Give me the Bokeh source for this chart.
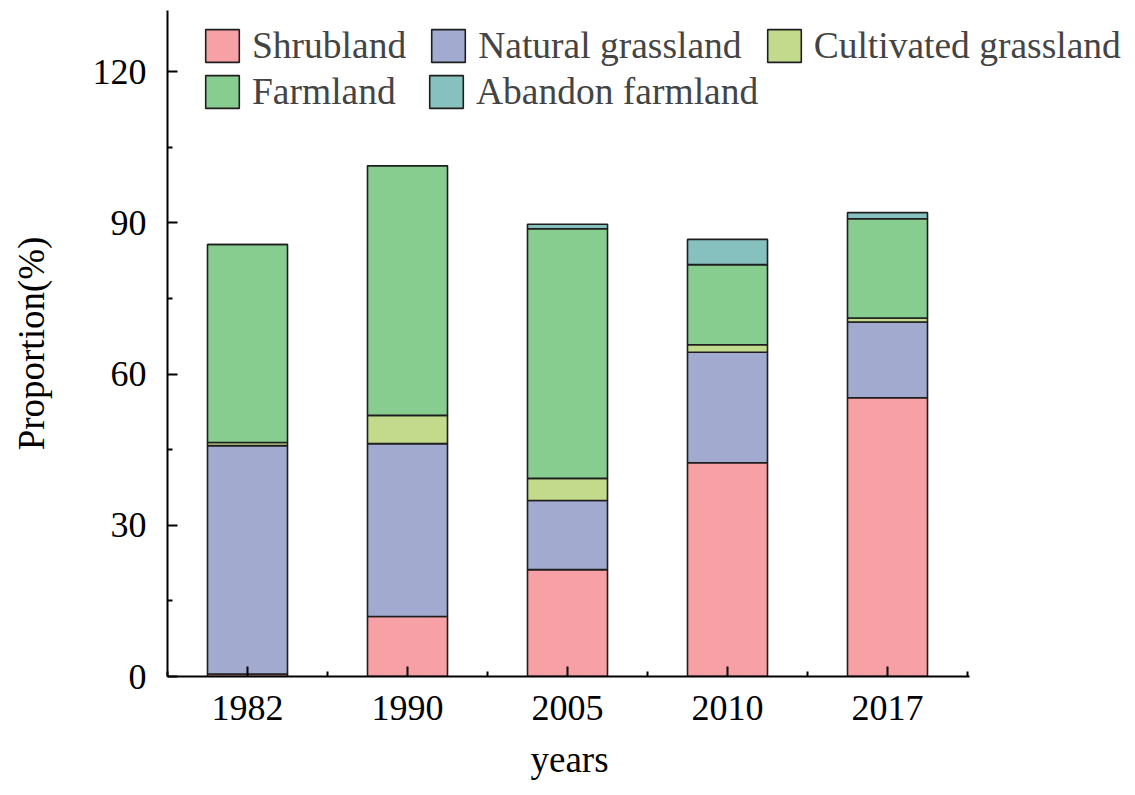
from bokeh.plotting import figure
from bokeh.models import Range1d, FixedTicker, Legend, LegendItem, ColumnDataSource, Title
from bokeh.embed import file_html
from bokeh.resources import INLINE

years = ["1982", "1990", "2005", "2010", "2017"]
shrubland = [0.5, 11.9, 21.2, 42.4, 55.3]
natural_grassland = [45.3, 34.3, 13.7, 21.9, 15.0]
cultivated_grassland = [0.6, 5.6, 4.4, 1.5, 0.8]
farmland = [39.3, 49.5, 49.5, 15.9, 19.7]
abandon_farmland = [0.0, 0.0, 0.9, 5.0, 1.2]

series_names = ["Shrubland", "Natural grassland", "Cultivated grassland", "Farmland", "Abandon farmland"]
colors = ["#F7A1A6", "#A2AAD0", "#C3DA8C", "#88CD90", "#87C1BF"]

FONT = "Liberation Serif"

xpos = [i + 1 for i in range(len(years))]
src = ColumnDataSource(dict(
    x=xpos,
    s0=shrubland, s1=natural_grassland, s2=cultivated_grassland, s3=farmland, s4=abandon_farmland,
))

p = figure(width=1135, height=795, output_backend="svg", toolbar_location=None,
           x_range=Range1d(0.5, 6.55), y_range=Range1d(0, 132.1),
           min_border_left=167, min_border_right=0, min_border_top=10, min_border_bottom=119)
p.outline_line_color = None
p.xgrid.visible = False
p.ygrid.visible = False
p.background_fill_color = "white"
p.border_fill_color = "white"

renderers = p.vbar_stack(["s0", "s1", "s2", "s3", "s4"], x="x", width=0.5, source=src,
                         fill_color=colors, line_color="#1e1e1e", line_width=1.6)

# axes
for ax in (p.xaxis[0], p.yaxis[0]):
    ax.axis_line_width = 2
    ax.axis_line_color = "black"
    ax.major_tick_line_color = "black"
    ax.minor_tick_line_color = "black"
    ax.major_tick_line_width = 2
    ax.minor_tick_line_width = 2
    ax.major_tick_in = 10
    ax.major_tick_out = 0
    ax.minor_tick_in = 5
    ax.minor_tick_out = 0
    ax.major_label_text_font = FONT
    ax.major_label_text_font_size = "36px"
    ax.major_label_text_color = "black"
    ax.axis_label_text_font = FONT
    ax.axis_label_text_font_size = "37px"
    ax.axis_label_text_font_style = "normal"
    ax.axis_label_text_color = "black"

p.xaxis.bounds = (0.5, 5.51)
p.xaxis.ticker = FixedTicker(ticks=xpos, minor_ticks=[x - 0.5 for x in xpos] + [xpos[-1] + 0.5])
p.xaxis.major_label_overrides = {x: y for x, y in zip(xpos, years)}
p.xaxis.major_label_standoff = 19

# x-axis title, centred under the axis line (the frame extends further right for the legend)
xtitle = Title(text="years", align="left", offset=363, standoff=28,
               text_font=FONT, text_font_size="37px", text_font_style="normal", text_color="black")
p.add_layout(xtitle, "below")

p.yaxis.ticker = FixedTicker(ticks=[0, 30, 60, 90, 120], minor_ticks=[15, 45, 75, 105])
p.yaxis.axis_label = "Proportion(%)"
p.yaxis.major_label_standoff = 21
p.yaxis.axis_label_standoff = 38

common = dict(orientation="horizontal", glyph_width=42, glyph_height=41, label_height=41,
              spacing=21, label_standoff=9, padding=0, margin=0,
              label_text_font=FONT, label_text_font_size="37.5px",
              border_line_color=None, background_fill_alpha=0)
items_a = [LegendItem(label=series_names[i], renderers=[renderers[i]]) for i in (0, 1, 2)]
items_b = [LegendItem(label=series_names[i], renderers=[renderers[i]]) for i in (3, 4)]
legend_a = Legend(items=items_a, location=(34, 609), **common)
legend_b = Legend(items=items_b, location=(34, 563), label_width=152, **common)
p.add_layout(legend_a, "center")
p.add_layout(legend_b, "center")

open("out.html", "w").write(file_html(p, INLINE))
